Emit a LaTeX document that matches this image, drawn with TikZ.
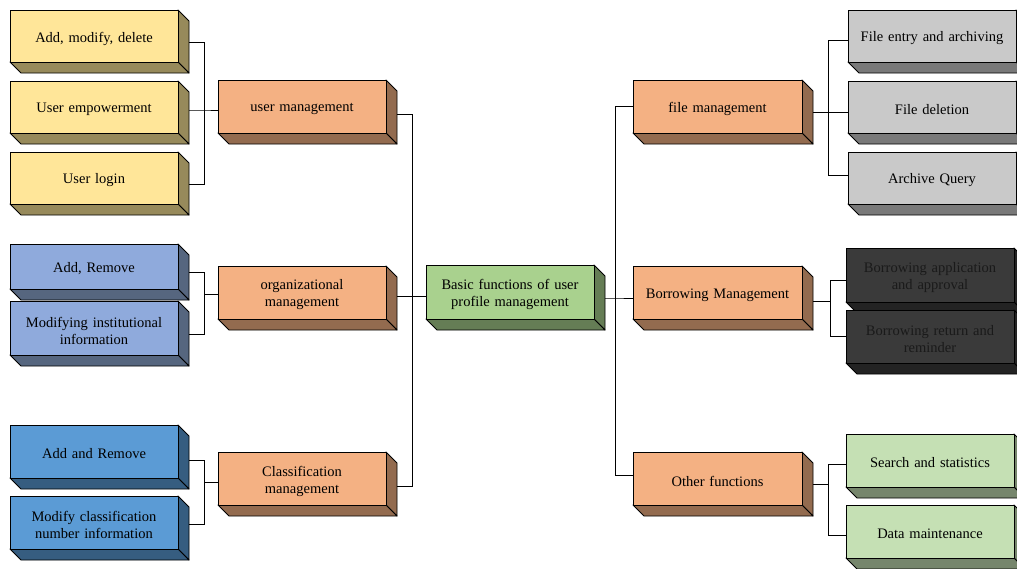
\documentclass[tikz,border=0pt]{standalone}
\usepackage{fontspec}
\setmainfont{Liberation Serif}
\definecolor{yF}{HTML}{FFE699}\definecolor{yS}{HTML}{978A5B}
\definecolor{oF}{HTML}{F4B183}\definecolor{oS}{HTML}{936B4F}
\definecolor{gF}{HTML}{A9D18E}\definecolor{gS}{HTML}{657D55}
\definecolor{bF}{HTML}{8FAADC}\definecolor{bS}{HTML}{56667F}
\definecolor{dbF}{HTML}{5B9BD5}\definecolor{dbS}{HTML}{365D80}
\definecolor{grF}{HTML}{C9C9C9}\definecolor{grS}{HTML}{797979}
\definecolor{dkF}{HTML}{3A3A3A}\definecolor{dkS}{HTML}{232323}\definecolor{dkT}{HTML}{1A1A1A}
\definecolor{lgF}{HTML}{C5E0B4}\definecolor{lgS}{HTML}{76866C}
\tikzset{
  face/.style={draw=black, line width=0.9pt, line join=round},
  tdb/.style={face, rectangle, inner sep=0pt, outer sep=0pt},
  tdbtext/.style={inner sep=0pt, align=center, text width=162pt,
    font=\fontsize{14.5}{17}\selectfont, yshift=-2.5pt},
  conn/.style={draw=black, line width=0.9pt}
}
% text options, name, x1, y1, x2, y2, front, side, text
\newcommand\tdbox[9]{%
  \path[face, fill=#8] (#5,#4) -- ++(11,11) -- (#5+11,#6+11) -- (#5,#6) -- cycle;
  \path[face, fill=#8] (#3,#6) -- (#5,#6) -- ++(11,11) -- (#3+11,#6+11) -- cycle;
  \node[tdb, fill=#7, minimum width=#5-#3, minimum height=#6-#4,
    label={[tdbtext,#1]center:{#9}}] (#2)
    at ({(#3+#5)/2},{(#4+#6)/2}) {};
}
\begin{document}
\begin{tikzpicture}[x=1pt,y=-1pt]
\useasboundingbox (0,0) rectangle (1017,568);
% left column
\tdbox{}{y1}{10}{10}{178}{62}{yF}{yS}{Add, modify, delete}
\tdbox{}{y2}{10}{81}{178}{133}{yF}{yS}{User empowerment}
\tdbox{}{y3}{10}{152}{178}{204}{yF}{yS}{User login}
\tdbox{}{b1}{10}{244}{178}{289}{bF}{bS}{Add, Remove}
\tdbox{}{b2}{10}{301}{178}{355}{bF}{bS}{Modifying institutional\\information}
\tdbox{}{c1}{10}{425}{178}{478}{dbF}{dbS}{Add and Remove}
\tdbox{}{c2}{10}{496}{178}{549}{dbF}{dbS}{Modify classification\\number information}
% second column
\tdbox{}{um}{218}{80}{386}{133}{oF}{oS}{user management}
\tdbox{}{om}{218}{266}{386}{319}{oF}{oS}{organizational\\management}
\tdbox{}{cm}{218}{452}{386}{505}{oF}{oS}{Classification\\management}
% centre
\tdbox{}{ce}{426}{265}{594}{319}{gF}{gS}{Basic functions of user\\profile management}
% fourth column
\tdbox{}{fm}{633}{80}{802}{133}{oF}{oS}{file management}
\tdbox{}{bm}{633}{266}{802}{319}{oF}{oS}{Borrowing Management}
\tdbox{}{of}{633}{452}{802}{505}{oF}{oS}{Other functions}
% right column
\tdbox{}{g1}{848}{10}{1016}{62}{grF}{grS}{File entry and archiving}
\tdbox{}{g2}{848}{81}{1016}{133}{grF}{grS}{File deletion}
\tdbox{}{g3}{848}{152}{1016}{204}{grF}{grS}{Archive Query}
\tdbox{text=dkT}{d1}{846}{248}{1014}{302}{dkF}{dkS}{Borrowing application\\and approval}
\tdbox{text=dkT}{d2}{846}{310}{1014}{363}{dkF}{dkS}{Borrowing return and\\reminder}
\tdbox{}{l1}{846}{434}{1014}{487}{lgF}{lgS}{Search and statistics}
\tdbox{}{l2}{846}{505}{1014}{558}{lgF}{lgS}{Data maintenance}
% connectors, left groups
\coordinate (jY) at (204,110);
\draw[conn] ([shift={(11,6)}]y1.east) -| (jY);
\draw[conn] ([shift={(11,6)}]y3.east) -| (jY);
\draw[conn] ([shift={(11,3)}]y2.east) -- (jY) -- (jY -| um.west);
\coordinate (jB) at (204,294);
\draw[conn] ([shift={(11,6)}]b1.east) -| (jB);
\draw[conn] ([shift={(11,6)}]b2.east) -| (jB);
\draw[conn] (jB) -- (jB -| om.west);
\coordinate (jC) at (204,482);
\draw[conn] ([shift={(11,9)}]c1.east) -| (jC);
\draw[conn] ([shift={(11,2)}]c2.east) -| (jC);
\draw[conn] (jC) -- (jC -| cm.west);
% centre left
\coordinate (jc) at (412,296);
\draw[conn] ([shift={(11,8)}]um.east) -| (jc);
\draw[conn] ([shift={(11,8)}]cm.east) -| (jc);
\draw[conn] ([xshift=11]om.east |- jc) -- (jc -| ce.west);
% centre right
\coordinate (jr) at (615,298);
\draw[conn] ([shift={(11,6)}]ce.east) -- (jr) -- (jr -| bm.west);
\draw[conn] (jr) |- (fm.west);
\draw[conn] (jr) |- ([yshift=3]of.west);
% right groups
\coordinate (jf) at (828,112.5);
\draw[conn] ([shift={(11,6)}]fm.east) -- (jf) -- (jf -| g2.west);
\draw[conn] (jf) |- ([yshift=-4]g1.west);
\draw[conn] (jf) |- ([yshift=3]g3.west);
\coordinate (jb) at (830,301.5);
\draw[conn] ([shift={(11,9)}]bm.east) -- (jb);
\draw[conn] (jb) |- ([yshift=-5]d1.west);
\draw[conn] (jb) |- (d2.west);
\coordinate (jo) at (828,484.5);
\draw[conn] ([shift={(11,6)}]of.east) -- (jo);
\draw[conn] (jo) |- ([yshift=-3.5]l1.west);
\draw[conn] (jo) |- ([yshift=-3.5]l2.west);
\end{tikzpicture}
\end{document}
